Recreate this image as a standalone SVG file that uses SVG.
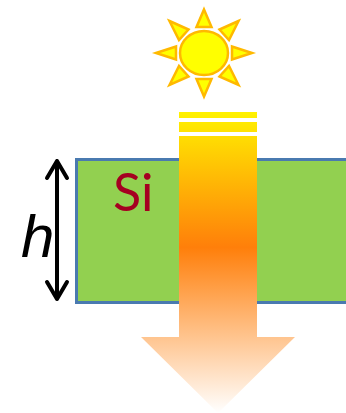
<svg xmlns="http://www.w3.org/2000/svg" width="346" height="413" viewBox="0 0 346 413">
<defs>
<linearGradient id="beam" gradientUnits="userSpaceOnUse" x1="0" y1="112" x2="0" y2="413">
<stop offset="0" stop-color="#fff200"/>
<stop offset="0.45" stop-color="#ff7f0a"/>
<stop offset="1" stop-color="#ffffff"/>
</linearGradient>
<style>
.ray{fill:#ffff00;stroke:#ffb900;stroke-width:2.500;stroke-linejoin:miter}
.dim{fill:none;stroke:#000;stroke-width:4;stroke-linecap:round;stroke-linejoin:round}
</style>
</defs>
<g id="slab">
<rect x="76.500" y="159.500" width="272" height="143" fill="#92d050" stroke="#4a7ab0" stroke-width="3"/>
</g>
<g id="si-label"><text x="113" y="211" font-family="Lato, Open Sans, sans-serif" font-size="52" fill="#a50021">Si</text></g>
<g id="connectors">
<path class="dim" d="M57 161V299M47 178L57 161L67 178M47 282L57 299L67 282"/>
</g>
<g id="h-label"><text x="21" y="257" font-family="Liberation Sans, sans-serif" font-style="italic" font-size="60" fill="#000">h</text></g>
<g id="beam-arrow">
<path d="M179 112H257V118H179ZM179 122H257V132H179ZM179 136H257V337H295L218 413L141 337H179Z" fill="url(#beam)"/>
</g>
<g id="sun">
<ellipse cx="204" cy="53" rx="24" ry="22" class="ray"/>
<path class="ray" d="M204 9.500L211.500 27H196.500Z"/>
<path class="ray" d="M204 96.500L196.500 79H211.500Z"/>
<path class="ray" d="M156 53L176 46.500V59.500Z"/>
<path class="ray" d="M252 53L232 46.500V59.500Z"/>
<path class="ray" d="M169.500 21L188.500 29.500L179 40Z"/>
<path class="ray" d="M238.500 21L219.500 29.500L229 40Z"/>
<path class="ray" d="M169.500 85L179 66L188.500 76.500Z"/>
<path class="ray" d="M238.500 85L229 66L219.500 76.500Z"/>
</g>
</svg>
